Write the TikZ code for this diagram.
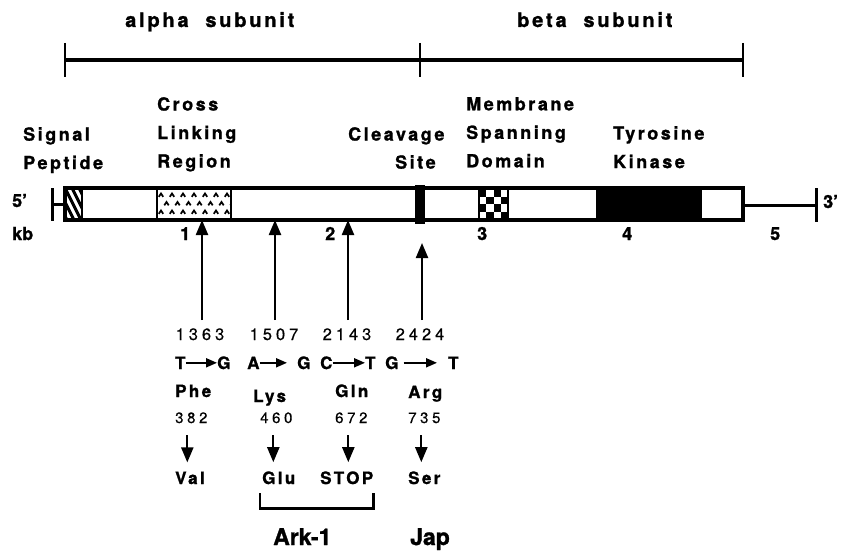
\documentclass[tikz,border=0pt]{standalone}
\usepackage{fontspec}
\setmainfont{TeX Gyre Heros}[BoldFeatures={FakeBold=1.2}]
\newfontfamily\spaced{TeX Gyre Heros}[LetterSpace=14,BoldFeatures={FakeBold=1.2}]
\newfontfamily\wide{TeX Gyre Heros}[LetterSpace=24,FakeBold=0.5]
\usetikzlibrary{arrows.meta}

\tikzset{
  subunit/.style={font=\spaced\bfseries\fontsize{20}{20}\selectfont,inner sep=0pt,anchor=base west},
  protlabel/.style={font=\spaced\bfseries\fontsize{18}{28.5}\selectfont,inner sep=0pt,anchor=north west,align=left},
  kbnum/.style={font=\bfseries\fontsize{18}{18}\selectfont,inner sep=0pt,anchor=base west},
  ntpos/.style={font=\wide\fontsize{16.5}{16.5}\selectfont,inner sep=0pt,anchor=base},
  nt/.style={font=\bfseries\fontsize{17}{17}\selectfont,inner sep=0pt,anchor=base west},
  aa/.style={font=\spaced\bfseries\fontsize{17}{17}\selectfont,inner sep=0pt,anchor=base west},
  aapos/.style={font=\wide\fontsize{15}{15}\selectfont,inner sep=0pt,anchor=base west},
  allele/.style={font=\bfseries\fontsize{23}{23}\selectfont,inner sep=0pt,anchor=base west},
  mut/.style={-{Triangle[width=12pt,length=15pt]},line width=2.2pt},
  swap/.style={-{Triangle[width=9pt,length=11pt]},line width=2pt},
  fall/.style={mut,shorten <=12pt,shorten >=9pt}
}

\begin{document}
\begin{tikzpicture}[x=1pt,y=-1pt,line join=miter]
  \useasboundingbox (0,0) rectangle (852,551);

  \coordinate (a0) at (65,60);
  \coordinate (a1) at (420,60);
  \coordinate (a2) at (743,60);
  \draw[line width=3.4pt] (a0) -- (a2);
  \foreach \p in {a0,a1,a2}
    \draw[line width=2.6pt] ([yshift=17pt]\p) -- ([yshift=-17pt]\p);
  \node[subunit] (alpha) at (125,27) {alpha\ \ subunit};
  \node[subunit] (beta) at (517,27) {beta\ \ subunit};

  \node[protlabel] (signal) at (23,127) {Signal\\Peptide};
  \node[protlabel] (cross) at (157,97) {Cross\\Linking\\Region};
  \node[protlabel] (cleave) at (348,127) {Cleavage};
  \node[protlabel] (site) at (395,155) {Site};
  \node[protlabel] (membrane) at (466,97) {Membrane\\Spanning\\Domain};
  \node[protlabel] (tyrosine) at (613,126) {Tyrosine\\Kinase};

  % coding region
  \fill[white] (65,188) rectangle (743,220);
  \begin{scope}
    \clip (65,188) rectangle (82,220);
    \foreach \s in {-21,-14,...,21}
      \draw[line width=3pt] (65+\s,188) -- (81+\s,220);
  \end{scope}
  \draw[line width=2.5pt] (82,188) -- (82,220);
  \begin{scope}
    \clip (157,188) rectangle (231,220);
    \foreach \y/\o in {195/0,203.5/5.5,212/0}
      \foreach \c in {0,...,6}
        \draw[line width=1.7pt] (161+\o+\c*11-2.2,\y+1.8) -- (161+\o+\c*11,\y-1.5) -- (161+\o+\c*11+2.2,\y+1.8);
  \end{scope}
  \draw[line width=2.5pt] (157,188) -- (157,220) (231,188) -- (231,220);
  \foreach \i in {0,...,3}
    \foreach \j in {0,...,3} {
      \pgfmathtruncatemacro\odd{mod(\i+\j,2)}
      \ifnum\odd=0
        \fill (479+\i*7.25,189+\j*7.5) rectangle ++(7.25,7.5);
      \fi
    }
  \draw[line width=2pt] (479,188) -- (479,220) (508,188) -- (508,220);
  \fill (596,188) rectangle (702,220);
  \draw[line width=3.4pt] (65,188) rectangle (743,220);
  \fill (415,185) rectangle (425,224);

  \draw[line width=3pt] (52,188) -- (52,221) (52,204) -- (65,204);
  \draw[line width=3pt] (743,205) -- (816,205) (816,188) -- (816,222);
  \node[kbnum] (five) at (12,207) {5'};
  \node[kbnum] (three) at (823,208) {3'};
  \node[kbnum] (kb) at (12,240) {kb};
  \foreach \n/\x in {1/180,2/325,3/477,4/622,5/770}
    \node[kbnum] (k\n) at (\x,240) {\n};

  \coordinate (m1) at (202,220);
  \coordinate (m2) at (275,220);
  \coordinate (m3) at (348,220);
  \coordinate (m4) at (422,243);

  \node[ntpos] (p1363) at (200,340) {1363};
  \node[ntpos] (p1507) at (274,340) {1507};
  \node[ntpos] (p2143) at (347,340) {2143};
  \node[ntpos] (p2424) at (420,340) {2424};
  \draw[mut] ([yshift=8pt]p1363.north -| m1) -- (m1);
  \draw[mut] ([yshift=8pt]p1507.north -| m2) -- (m2);
  \draw[mut] ([yshift=8pt]p2143.north -| m3) -- (m3);
  \draw[mut] ([yshift=8pt]p2424.north -| m4) -- (m4);

  \node[nt] (t1) at (175,369) {T};
  \node[nt] (g1) at (217,369) {G};
  \node[nt] (a2) at (247,369) {A};
  \node[nt] (g2) at (297,369) {G};
  \node[nt] (c3) at (320,369) {C};
  \node[nt] (t3) at (365,369) {T};
  \node[nt] (g4) at (385,369) {G};
  \node[nt] (t4) at (448,369) {T};
  \draw[swap] (t1.east) -- (g1.west);
  \draw[swap,shorten >=10pt] (a2.east) -- (g2.west);
  \draw[swap] (c3.east) -- (t3.west);
  \draw[swap,shorten <=5pt,shorten >=11pt] (g4.east) -- (t4.west);

  \node[aa] (phe) at (175,397) {Phe};
  \node[aa] (lys) at (253,402) {Lys};
  \node[aa] (gln) at (335,397) {Gln};
  \node[aa] (arg) at (408,398) {Arg};
  \node[aapos] (r382) at (175,423) {382};
  \node[aapos] (r460) at (260,423) {460};
  \node[aapos] (r672) at (335,423) {672};
  \node[aapos] (r735) at (408,423) {735};

  \node[aa] (val) at (175,484) {Val};
  \node[aa] (glu) at (262,484) {Glu};
  \node[aa] (stop) at (320,484) {STOP};
  \node[aa] (ser) at (408,484) {Ser};
  \draw[fall] ([xshift=-4pt]r382.south) -- ([xshift=-4pt]r382.south |- val.north);
  \draw[fall] ([xshift=-3pt]r460.south) -- ([xshift=-3pt]r460.south |- glu.north);
  \draw[fall] ([xshift=-3pt]r672.south) -- ([xshift=-3pt]r672.south |- stop.north);
  \draw[fall] ([xshift=-3pt]r735.south) -- ([xshift=-3pt]r735.south |- ser.north);

  \draw[line width=2.2pt] ([xshift=-2pt,yshift=-9pt]glu.south west) -- ++(0,15) -| ([yshift=-9pt]stop.south east);
  \node[allele] (ark) at (273,545) {Ark-1};
  \node[allele] (jap) at (410,545) {Jap};
\end{tikzpicture}
\end{document}
